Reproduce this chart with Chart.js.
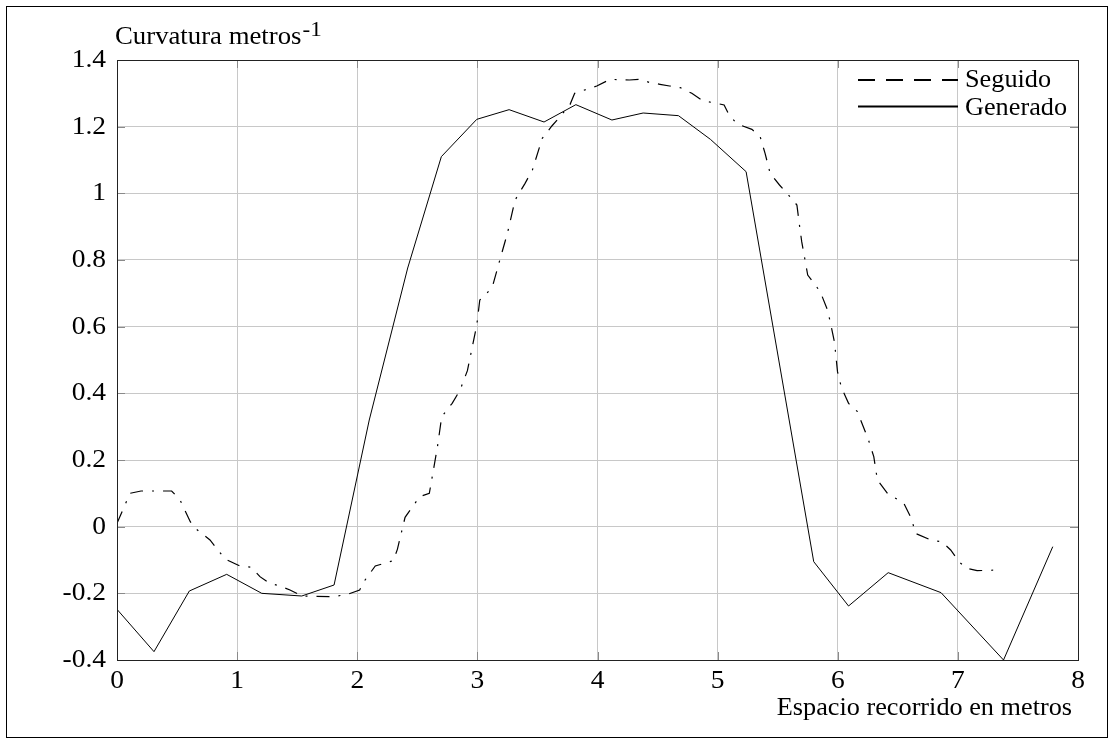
<!DOCTYPE html>
<html>
<head>
<meta charset="utf-8">
<script src="https://cdn.jsdelivr.net/npm/chart.js@4.4.1/dist/chart.umd.min.js"></script>
<style>
html,body{margin:0;padding:0;background:#fff;}
canvas{display:block;}
</style>
</head>
<body>
<canvas id="c" width="1114" height="744"></canvas>
<script>
// ---- data ----
const generadoX = [0, 0.308, 0.602, 0.913, 1.205, 1.538, 1.807, 2.10, 2.42, 2.70, 2.995, 3.264, 3.555, 3.82, 4.12, 4.38, 4.674, 4.94, 5.237, 5.80, 6.09, 6.42, 6.86, 7.38, 7.79];
const generadoY = [-0.248, -0.375, -0.193, -0.143, -0.2, -0.208, -0.175, 0.32, 0.776, 1.11, 1.222, 1.251, 1.214, 1.266, 1.22, 1.241, 1.233, 1.162, 1.065, -0.105, -0.238, -0.138, -0.198, -0.4, -0.06];

const seguidoX = [0, 0.108, 0.2, 0.455, 0.525, 0.61, 0.663, 0.774, 0.9, 1.024, 1.12, 1.19, 1.27, 1.357, 1.44, 1.54, 1.80, 1.92, 2.02, 2.065, 2.15, 2.30, 2.334, 2.398, 2.52, 2.60, 2.667, 2.703, 2.79, 2.856, 2.917, 2.995, 3.02, 3.078, 3.125, 3.183, 3.25, 3.314, 3.397, 3.458, 3.54, 3.62, 3.70, 3.772, 3.81, 3.91, 3.994, 4.105, 4.265, 4.355, 4.43, 4.52, 4.60, 4.69, 4.785, 4.88, 4.965, 5.054, 5.098, 5.165, 5.285, 5.354, 5.395, 5.437, 5.515, 5.59, 5.66, 5.68, 5.70, 5.75, 5.854, 5.915, 5.94, 5.973, 5.998, 6.03, 6.09, 6.164, 6.198, 6.256, 6.30, 6.33, 6.414, 6.55, 6.617, 6.645, 6.78, 6.866, 6.94, 7.014, 7.075, 7.16, 7.35];
const seguidoY = [0.01, 0.1, 0.107, 0.107, 0.08, 0.015, -0.008, -0.04, -0.097, -0.118, -0.122, -0.15, -0.17, -0.178, -0.19, -0.208, -0.21, -0.203, -0.19, -0.16, -0.118, -0.102, -0.068, 0.028, 0.09, 0.1, 0.238, 0.33, 0.37, 0.41, 0.468, 0.605, 0.68, 0.70, 0.72, 0.795, 0.88, 0.98, 1.03, 1.07, 1.165, 1.202, 1.235, 1.267, 1.30, 1.312, 1.322, 1.342, 1.34, 1.342, 1.333, 1.327, 1.322, 1.317, 1.30, 1.277, 1.272, 1.265, 1.233, 1.208, 1.192, 1.17, 1.12, 1.06, 1.025, 0.995, 0.965, 0.908, 0.855, 0.755, 0.705, 0.65, 0.61, 0.553, 0.465, 0.418, 0.37, 0.345, 0.313, 0.26, 0.21, 0.14, 0.10, 0.07, 0.022, -0.02, -0.041, -0.045, -0.07, -0.107, -0.125, -0.132, -0.13];

const xTickLabels = ['0','1','2','3','4','5','6','7','8'];
const yTickLabels = ['-0.4','-0.2','0','0.2','0.4','0.6','0.8','1','1.2','1.4'];
const seriesNames = ['Seguido', 'Generado'];
const yTitle = 'Curvatura metros';
const yTitleSup = '-1';
const xTitle = 'Espacio recorrido en metros';

// ---- helpers ----
const toPts = (xs, ys) => xs.map((x, i) => ({x: x, y: ys[i]}));
const FONT = '"Liberation Serif", "DejaVu Serif", serif';

function drawText(ctx, str, x, y, align, size, sx) {
  ctx.save();
  ctx.translate(x, y);
  ctx.scale(sx, 1);
  ctx.font = size + 'px ' + FONT;
  ctx.fillStyle = '#000';
  ctx.textAlign = align;
  ctx.textBaseline = 'alphabetic';
  ctx.fillText(str, 0, 0);
  const w = ctx.measureText(str).width * sx;
  ctx.restore();
  return w;
}

const decoPlugin = {
  id: 'deco',
  afterDraw(chart) {
    const ctx = chart.ctx;
    const a = chart.chartArea;
    const xs = chart.scales.x, ys = chart.scales.y;
    ctx.save();
    // inward ticks
    ctx.strokeStyle = '#8a8a8a';
    ctx.lineWidth = 1;
    ctx.beginPath();
    xs.ticks.forEach(t => {
      const px = Math.round(xs.getPixelForValue(t.value)) + 0.5;
      ctx.moveTo(px, a.bottom); ctx.lineTo(px, a.bottom - 8);
      ctx.moveTo(px, a.top); ctx.lineTo(px, a.top + 8);
    });
    ys.ticks.forEach(t => {
      const py = Math.round(ys.getPixelForValue(t.value)) + 0.5;
      ctx.moveTo(a.left, py); ctx.lineTo(a.left + 8, py);
      ctx.moveTo(a.right, py); ctx.lineTo(a.right - 8, py);
    });
    ctx.stroke();
    // plot frame
    ctx.strokeStyle = '#222';
    ctx.lineWidth = 1;
    ctx.strokeRect(Math.round(a.left) + 0.5, Math.round(a.top) + 0.5, Math.round(a.right - a.left), Math.round(a.bottom - a.top));
    // outer frame
    ctx.strokeStyle = '#000';
    ctx.strokeRect(6.5, 6.5, 1101, 731);
    // tick labels
    xs.ticks.forEach((t, i) => {
      drawText(ctx, xTickLabels[i], xs.getPixelForValue(t.value), a.bottom + 28, 'center', 25, 1.1);
    });
    ys.ticks.forEach((t, i) => {
      drawText(ctx, yTickLabels[i], a.left - 11, ys.getPixelForValue(t.value) + 7, 'right', 25, 1.1);
    });
    // titles
    const w = drawText(ctx, yTitle, 115, 44, 'left', 25, 1.07);
    drawText(ctx, yTitleSup, 115 + w + 1, 36, 'left', 22, 1.05);
    drawText(ctx, xTitle, 1072, 715, 'right', 25, 1.05);
    // legend
    const ds = chart.data.datasets;
    const rows = [{y: 80, tb: 87}, {y: 106.5, tb: 114.5}];
    ds.forEach((d, i) => {
      ctx.save();
      ctx.strokeStyle = '#000';
      ctx.lineWidth = 2;
      ctx.setLineDash(i === 0 ? [17, 11] : []);
      ctx.beginPath();
      ctx.moveTo(858, rows[i].y);
      ctx.lineTo(958, rows[i].y);
      ctx.stroke();
      ctx.restore();
      drawText(ctx, d.label, 965, rows[i].tb, 'left', 25, 1.05);
    });
    ctx.restore();
  }
};

new Chart(document.getElementById('c'), {
  type: 'line',
  data: {
    datasets: [
      {
        label: seriesNames[0],
        data: toPts(seguidoX, seguidoY),
        borderColor: '#000',
        borderWidth: 1.2,
        borderDash: [13, 9, 2, 9],
        pointRadius: 0,
        fill: false,
        tension: 0
      },
      {
        label: seriesNames[1],
        data: toPts(generadoX, generadoY),
        borderColor: '#000',
        borderWidth: 1,
        pointRadius: 0,
        fill: false,
        tension: 0
      }
    ]
  },
  options: {
    responsive: false,
    animation: false,
    devicePixelRatio: 1,
    layout: { padding: { left: 0, top: 60, right: 36, bottom: 0 } },
    plugins: {
      legend: { display: false },
      tooltip: { enabled: false },
      title: { display: false }
    },
    scales: {
      x: {
        type: 'linear',
        min: 0, max: 8,
        afterFit(s) { s.height = 84; },
        grid: { color: '#c8c8c8', lineWidth: 1, drawTicks: false },
        border: { display: false },
        ticks: { stepSize: 1, display: false }
      },
      y: {
        type: 'linear',
        min: -0.4, max: 1.4,
        afterFit(s) { s.width = 117; },
        grid: { color: '#c8c8c8', lineWidth: 1, drawTicks: false },
        border: { display: false },
        ticks: { stepSize: 0.2, display: false }
      }
    }
  },
  plugins: [decoPlugin]
});
</script>
</body>
</html>
